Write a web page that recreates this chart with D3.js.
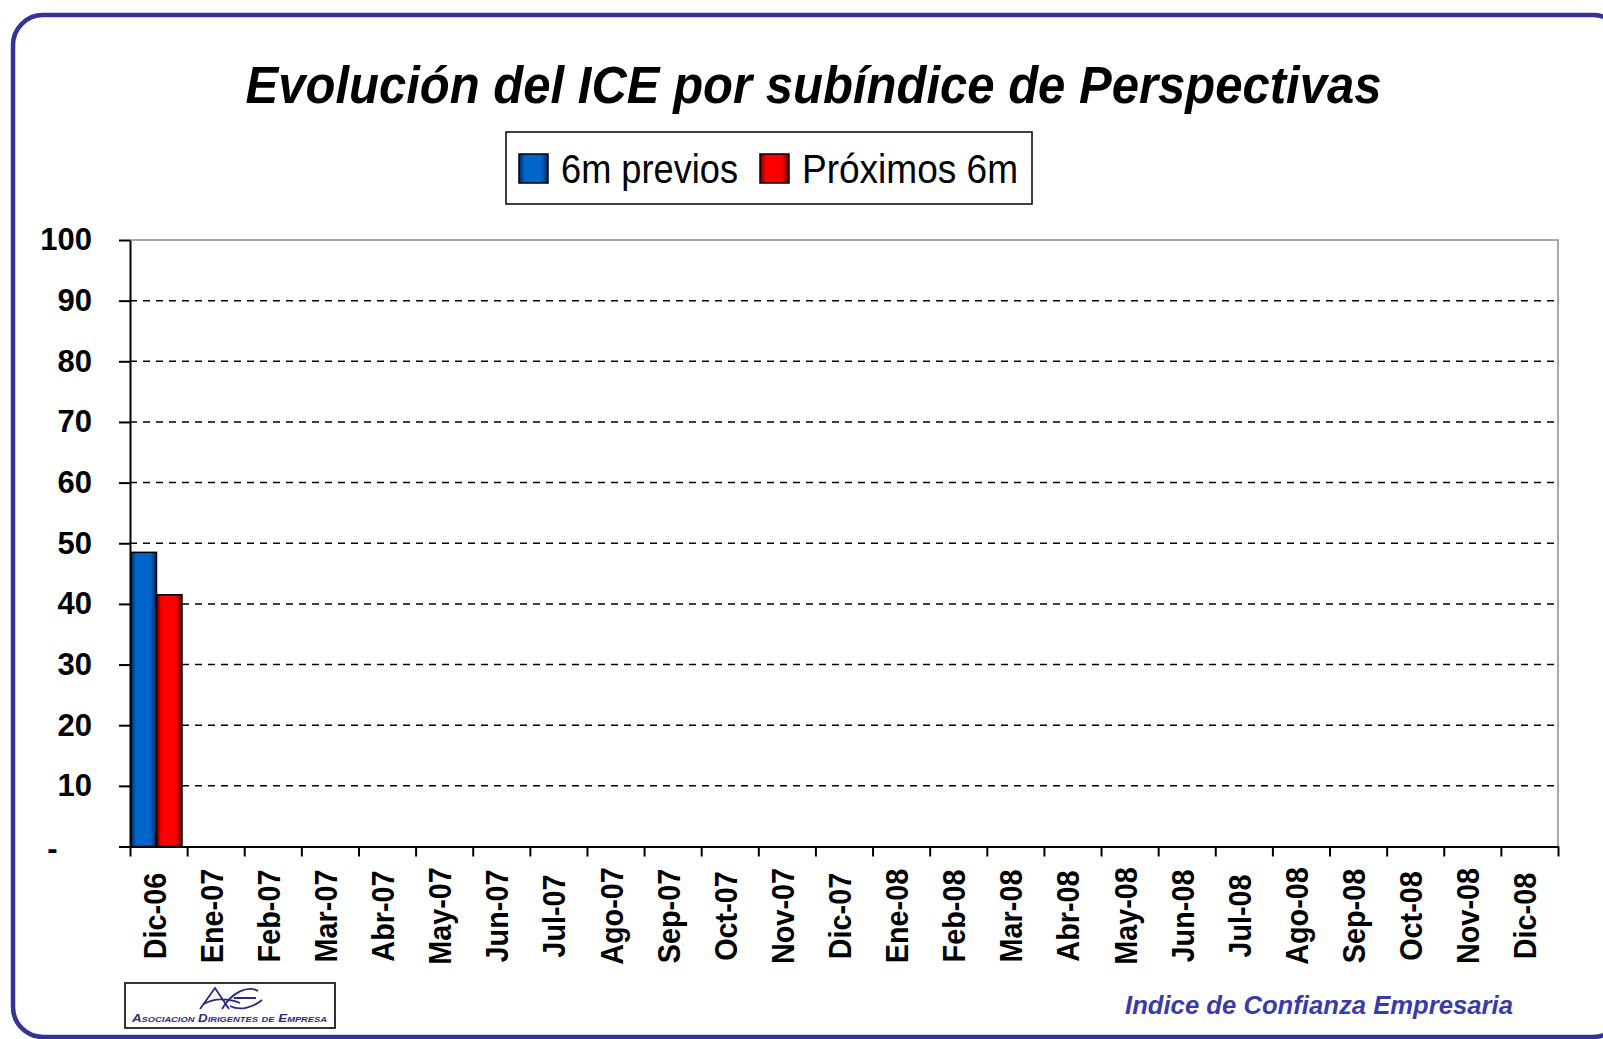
<!DOCTYPE html>
<html lang="es">
<head>
<meta charset="UTF-8">
<title>Evolución del ICE por subíndice de Perspectivas</title>
<script src="https://cdn.jsdelivr.net/npm/d3@7"></script>
<style>
    body { margin: 0; background: #ffffff; }
    svg text { font-family: "Liberation Sans", Arial, sans-serif; }
    .axis path, .axis line { fill: none; stroke: #000; stroke-width: 2; }
</style>
</head>
<body>
<script>
// ---- data ----
const months = ["Dic-06", "Ene-07", "Feb-07", "Mar-07", "Abr-07", "May-07", "Jun-07",
    "Jul-07", "Ago-07", "Sep-07", "Oct-07", "Nov-07", "Dic-07", "Ene-08", "Feb-08",
    "Mar-08", "Abr-08", "May-08", "Jun-08", "Jul-08", "Ago-08", "Sep-08", "Oct-08",
    "Nov-08", "Dic-08"];
const seriesNames = ["6m previos", "Próximos 6m"];
const previos = [48.5];      // only Dic-06 reported
const proximos = [41.5];
const yTicks = [0, 10, 20, 30, 40, 50, 60, 70, 80, 90, 100];

const colors = {
    "6m previos": ["#002a5c", "#0066cc"],
    "Próximos 6m": ["#660000", "#ff0000"]
};

const W = 1603, H = 1039;
const plotL = 130, plotR = 1558, plotT = 240, plotB = 846.5;

const svg = d3.select("body").append("svg")
    .attr("width", W).attr("height", H);

// gradients for the bars
const defs = svg.append("defs");
seriesNames.forEach((s, i) => {
    const g = defs.append("linearGradient")
        .attr("id", "grad" + i)
        .attr("x1", "0").attr("x2", "1").attr("y1", "0").attr("y2", "0");
    g.append("stop").attr("offset", "0").attr("stop-color", colors[s][0]);
    g.append("stop").attr("offset", "0.2").attr("stop-color", colors[s][1]);
    g.append("stop").attr("offset", "0.75").attr("stop-color", colors[s][1]);
    g.append("stop").attr("offset", "1").attr("stop-color", colors[s][0]);
});

// outer rounded frame
svg.append("rect")
    .attr("x", 13).attr("y", 15)
    .attr("width", 1610).attr("height", 1022)
    .attr("rx", 30).attr("ry", 30)
    .attr("fill", "#fff")
    .attr("stroke", "#333399").attr("stroke-width", 4.5);

// title
svg.append("text")
    .attr("x", 813.5).attr("y", 103)
    .attr("text-anchor", "middle")
    .attr("font-size", 51).attr("font-weight", "bold").attr("font-style", "italic")
    .attr("textLength", 1136).attr("lengthAdjust", "spacingAndGlyphs")
    .text("Evolución del ICE por subíndice de Perspectivas");

// scales
const x = d3.scaleBand().domain(months).range([plotL, plotR]).padding(0);
const xIdx = d3.scaleLinear().domain([0, months.length]).range([plotL, plotR]);
const xSub = d3.scaleBand().domain(seriesNames).range([1, 52]);
const y = d3.scaleLinear().domain([0, 100]).range([plotB, plotT]);

// plot area border (grey top / right)
svg.append("path")
    .attr("d", `M${plotL},${y(100)}H${plotR}V${y(0)}`)
    .attr("fill", "none").attr("stroke", "#8c8c8c").attr("stroke-width", 1.5);

// dashed gridlines
svg.append("g").selectAll("line")
    .data(yTicks.filter(d => d > 0 && d < 100))
    .enter().append("line")
    .attr("x1", plotL).attr("x2", plotR - 4)
    .attr("y1", d => y(d)).attr("y2", d => y(d))
    .attr("stroke", "#000").attr("stroke-width", 1.5)
    .attr("stroke-dasharray", "7,6");

// bars
const table = months.map((m, i) => ({
    month: m,
    values: [
        { s: seriesNames[0], v: previos[i] },
        { s: seriesNames[1], v: proximos[i] }
    ].filter(d => d.v != null)
}));

svg.append("g").selectAll("g")
    .data(table)
    .enter().append("g")
    .attr("transform", d => `translate(${x(d.month)},0)`)
    .selectAll("rect")
    .data(d => d.values)
    .enter().append("rect")
    .attr("x", d => xSub(d.s))
    .attr("width", xSub.bandwidth())
    .attr("y", d => y(d.v))
    .attr("height", d => y(0) - y(d.v))
    .attr("fill", d => `url(#grad${seriesNames.indexOf(d.s)})`)
    .attr("stroke", "#000").attr("stroke-width", 1.5);

// y axis
const yAxis = d3.axisLeft(y)
    .tickValues(yTicks)
    .tickSize(11).tickSizeOuter(0).tickPadding(27)
    .tickFormat(d => d === 0 ? "-" : d);
const gy = svg.append("g").attr("class", "axis")
    .attr("transform", `translate(${plotL},0)`)
    .call(yAxis);
gy.selectAll("text")
    .attr("font-size", 31).attr("font-weight", "bold").attr("fill", "#000")
    .attr("font-family", "Liberation Sans, Arial, sans-serif");
gy.selectAll(".tick").filter(d => d === 0).select("text")
    .attr("x", -77.5).attr("text-anchor", "middle").attr("dy", "0.4em");

// x axis: tick marks between categories
const xAxis = d3.axisBottom(xIdx)
    .tickValues(d3.range(months.length + 1))
    .tickSize(10).tickSizeOuter(0)
    .tickFormat("");
svg.append("g").attr("class", "axis")
    .attr("transform", `translate(0,${plotB})`)
    .call(xAxis);

// x labels, rotated
svg.append("g").selectAll("text")
    .data(months)
    .enter().append("text")
    .attr("transform", d => `translate(${x(d) + x.bandwidth() / 2 + 7},916) rotate(-90) scale(0.93,1)`)
    .attr("text-anchor", "middle")
    .attr("font-size", 31).attr("font-weight", "bold")
    .text(d => d);

// legend
const lg = svg.append("g");
lg.append("rect")
    .attr("x", 506).attr("y", 132).attr("width", 526).attr("height", 72)
    .attr("fill", "#fff").attr("stroke", "#000").attr("stroke-width", 1.5);
const legendX = [519, 760];
const legendW = [177, 216];
const items = lg.selectAll("g.item")
    .data(seriesNames)
    .enter().append("g").attr("class", "item")
    .attr("transform", (d, i) => `translate(${legendX[i]},0)`);
items.append("rect")
    .attr("x", 0).attr("y", 154).attr("width", 29).attr("height", 29)
    .attr("fill", (d, i) => `url(#grad${i})`)
    .attr("stroke", "#000").attr("stroke-width", 1.5);
items.append("text")
    .attr("x", 42).attr("y", 183)
    .attr("font-size", 41)
    .attr("textLength", (d, i) => legendW[i]).attr("lengthAdjust", "spacingAndGlyphs")
    .text(d => d);

// footer
svg.append("text")
    .attr("x", 1125).attr("y", 1014)
    .attr("font-size", 26).attr("font-weight", "bold").attr("font-style", "italic")
    .attr("fill", "#3b3ba8")
    .attr("textLength", 388).attr("lengthAdjust", "spacingAndGlyphs")
    .text("Indice de Confianza Empresaria");

// logo box
const logo = svg.append("g");
logo.append("rect")
    .attr("x", 125).attr("y", 983).attr("width", 210).attr("height", 45)
    .attr("fill", "#fff").attr("stroke", "#333").attr("stroke-width", 2);
logo.append("path")
    .attr("d", "M200,1009 L215,988 L229,1009 M204,1004 C214,998 228,998 240,1003")
    .attr("fill", "none").attr("stroke", "#2a2a80").attr("stroke-width", 1.8);
logo.append("path")
    .attr("d", "M222,1009 C232,992 248,985 258,991 M230,1006 C240,1011 252,1008 262,1000 M234,998 L256,998")
    .attr("fill", "none").attr("stroke", "#2a2a80").attr("stroke-width", 1.8);
logo.append("text")
    .attr("x", 132).attr("y", 1022)
    .attr("font-family", "Liberation Serif, serif")
    .attr("font-size", 10).attr("font-style", "italic").attr("font-weight", "bold")
    .attr("fill", "#2a2a80")
    .attr("font-variant", "small-caps")
    .attr("textLength", 195).attr("lengthAdjust", "spacingAndGlyphs")
    .text("Asociacion Dirigentes de Empresa");
</script>
</body>
</html>
